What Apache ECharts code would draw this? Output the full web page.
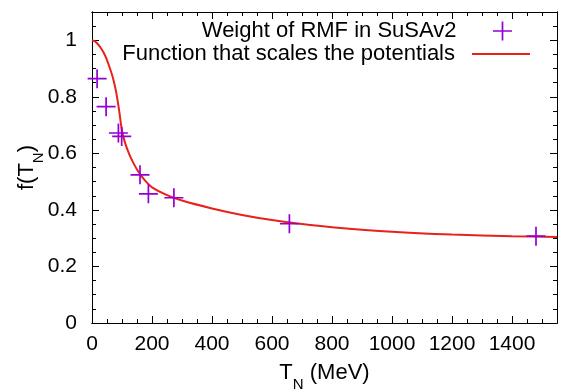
<!DOCTYPE html>
<html><head><meta charset="utf-8">
<script src="https://cdn.jsdelivr.net/npm/echarts@6/dist/echarts.min.js"></script>
<style>html,body{margin:0;padding:0;background:#fff}#c{width:565px;height:390px}</style>
</head><body><div id="c"></div>
<script>
// Data
const weightT = [17, 47, 88, 99, 160, 188, 273, 658, 1480];
const weightF = [0.864, 0.765, 0.672, 0.660, 0.524, 0.457, 0.443, 0.351, 0.307];
const funcT = [0, 10, 20, 30, 40, 50, 60, 70, 80, 90, 100, 110, 120, 130, 140, 150, 160, 180, 200, 250, 300, 400, 500, 600, 700, 800, 1000, 1200, 1400, 1550];
const funcF = [1.0, 0.996, 0.986, 0.972, 0.954, 0.93, 0.9, 0.866, 0.82, 0.755, 0.68, 0.638, 0.608, 0.583, 0.562, 0.543, 0.527, 0.5, 0.48, 0.452, 0.433, 0.405, 0.382, 0.364, 0.35, 0.339, 0.323, 0.313, 0.307, 0.304];
const xTicks = [0, 200, 400, 600, 800, 1000, 1200, 1400];
const yTicks = [0, 0.2, 0.4, 0.6, 0.8, 1];
const names = ['Weight of RMF in SuSAv2', 'Function that scales the potentials'];

const FONT = 'Liberation Sans, Arial, Helvetica, sans-serif';
const cross = 'path://M0,9.1H20V10.9H0Z M9.1,0H10.9V20H9.1Z';
const chart = echarts.init(document.getElementById('c'), null, {renderer: 'canvas'});

function xAx(pos, interval, len, showLabel, extra) {
  return Object.assign({
    type: 'value', position: pos, min: 0, max: 1550, interval: interval,
    axisLine: {show: true, onZero: false, lineStyle: {color: '#000', width: 1}},
    axisTick: {show: true, inside: true, length: len, lineStyle: {color: '#000', width: 1}},
    axisLabel: {show: showLabel, color: '#000', fontSize: 21, fontFamily: FONT, margin: 11, showMaxLabel: false,
      formatter: v => xTicks.indexOf(Math.round(v)) >= 0 ? String(Math.round(v)) : ''},
    splitLine: {show: false}
  }, extra || {});
}
function yAx(pos, interval, len, showLabel, extra) {
  return Object.assign({
    type: 'value', position: pos, min: 0, max: 1.1, interval: interval,
    axisLine: {show: true, onZero: false, lineStyle: {color: '#000', width: 1}},
    axisTick: {show: true, inside: true, length: len, lineStyle: {color: '#000', width: 1}},
    axisLabel: {show: showLabel, color: '#000', fontSize: 21, fontFamily: FONT, margin: 15, showMaxLabel: false,
      formatter: v => yTicks.indexOf(Math.round(v*10)/10) >= 0 ? String(Math.round(v*10)/10) : ''},
    splitLine: {show: false}
  }, extra || {});
}
const nameRich = {
  a: {fontSize: 22, fontFamily: FONT, color: '#000', lineHeight: 24, verticalAlign: 'top'},
  s: {fontSize: 15, fontFamily: FONT, color: '#000', lineHeight: 30, verticalAlign: 'bottom'}
};

chart.setOption({
  animation: false,
  backgroundColor: '#fff',
  grid: {left: 92, right: 8, top: 12, bottom: 67, containLabel: false, outerBoundsMode: 'none'},
  xAxis: [
    xAx('bottom', 200, 7, true, {
      name: '{a|T}{s|N}{a| (MeV)}', nameLocation: 'middle', nameGap: 39, nameMoveOverlap: false,
      nameTextStyle: {color: '#000', fontFamily: FONT, rich: nameRich}
    }),
    xAx('bottom', 50, 4, false),
    xAx('top', 200, 7, false),
    xAx('top', 50, 4, false)
  ],
  yAxis: [
    yAx('left', 0.2, 7, true, {
      name: '{a|f(T}{s|N}{a|)}', nameLocation: 'middle', nameGap: 46, nameRotate: 90, nameMoveOverlap: false,
      nameTextStyle: {color: '#000', fontFamily: FONT, rich: nameRich}
    }),
    yAx('left', 0.05, 4, false),
    yAx('right', 0.2, 7, false),
    yAx('right', 0.05, 4, false)
  ],
  legend: [
    {data: [names[0]], right: 53, top: 20, padding: 0, align: 'right', itemWidth: 58, itemHeight: 19,
     symbolKeepAspect: true,
     textStyle: {fontSize: 22, fontFamily: FONT, color: '#000', padding: [0, 12, 0, 0]}, selectedMode: false},
    {data: [{name: names[1], icon: 'rect'}], right: 35, top: 43, padding: 0, align: 'right', itemWidth: 58, itemHeight: 2,
     textStyle: {fontSize: 22, fontFamily: FONT, color: '#000', padding: [0, 12, 0, 0]}, selectedMode: false}
  ],
  series: [
    {
      name: names[1], type: 'line', xAxisIndex: 0, yAxisIndex: 0,
      data: funcT.map((t, i) => [t, funcF[i]]),
      smooth: 0.3, symbol: 'none', showSymbol: false,
      lineStyle: {color: '#e8211b', width: 2}, itemStyle: {color: '#e8211b'}, z: 2
    },
    {
      name: names[0], type: 'scatter', xAxisIndex: 0, yAxisIndex: 0,
      data: weightT.map((t, i) => [t, weightF[i]]),
      symbol: cross, symbolSize: 19,
      itemStyle: {color: '#9400d3', opacity: 1}, z: 3
    }
  ]
});
</script></body></html>
